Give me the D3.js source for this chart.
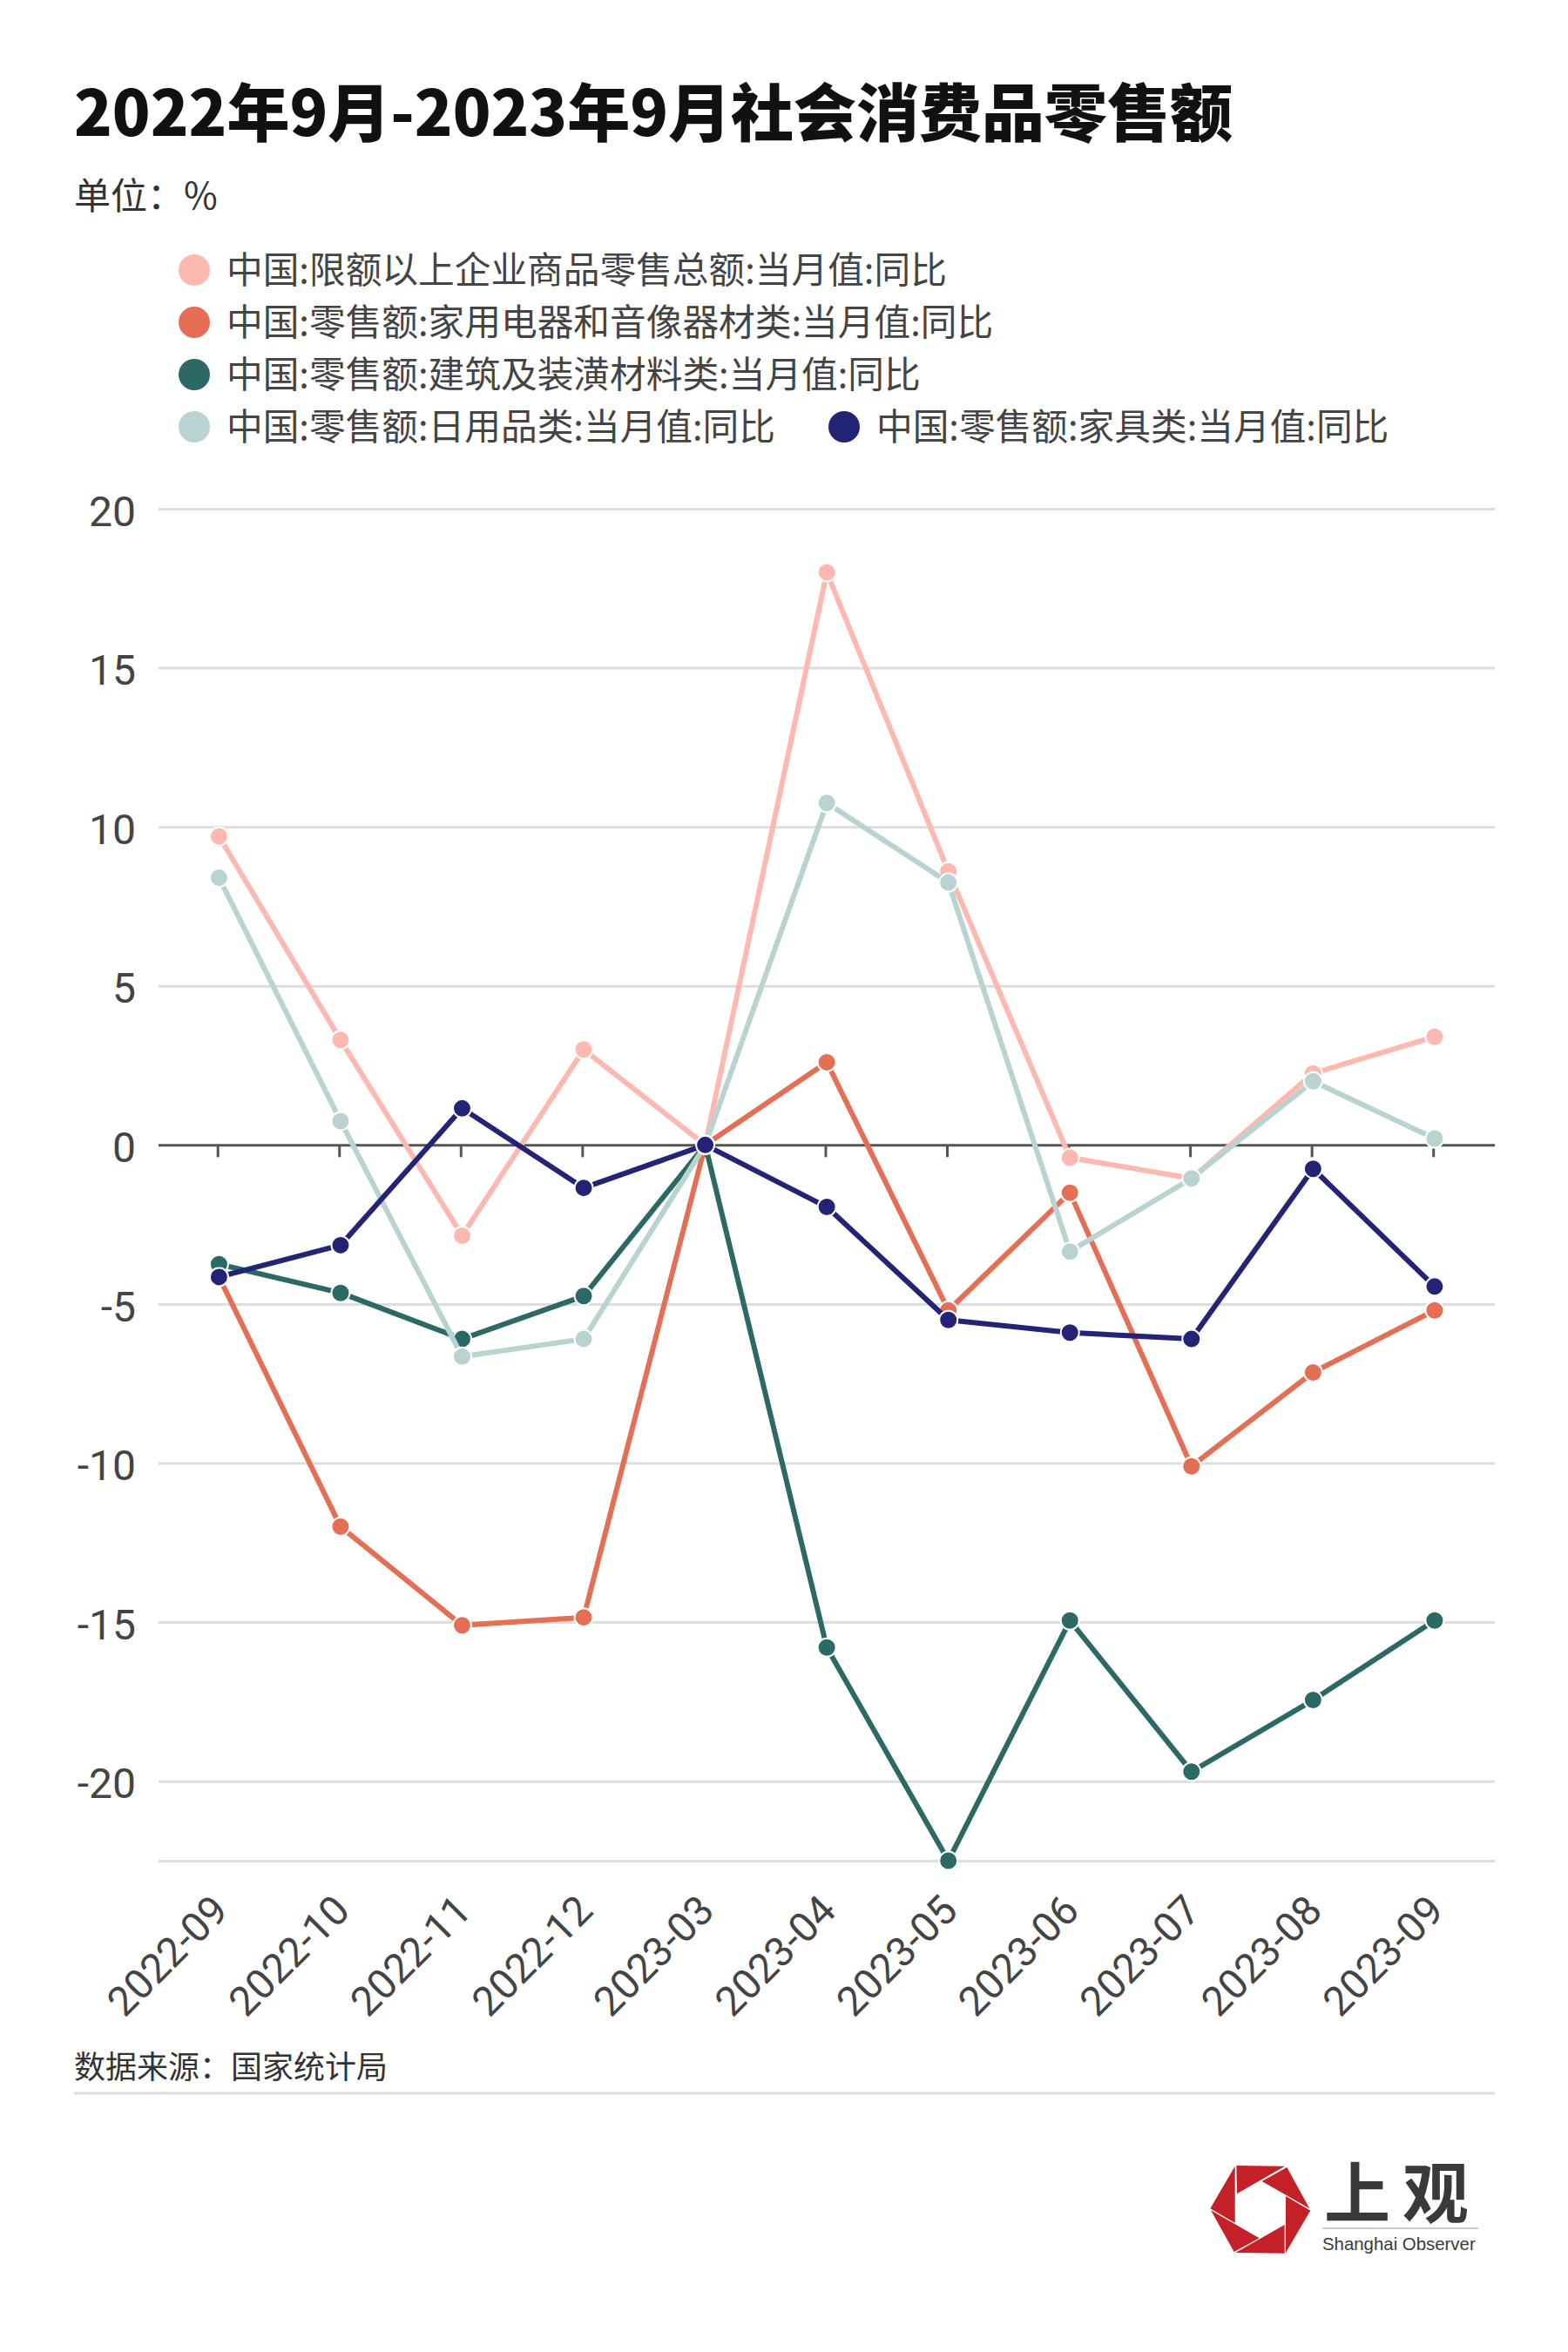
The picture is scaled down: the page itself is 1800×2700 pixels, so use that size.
<!DOCTYPE html>
<html lang="zh">
<head>
<meta charset="utf-8">
<script src="https://cdn.jsdelivr.net/npm/d3@7/dist/d3.min.js"></script>
<style>
html,body{margin:0;padding:0;background:#fff}
svg{display:block}
text{font-family:"Noto Sans CJK SC","Noto Sans",sans-serif}
</style>
</head>
<body>
<svg id="c" width="1800" height="2700"></svg>
<script>
const categories = ["2022-09","2022-10","2022-11","2022-12","2023-03","2023-04","2023-05","2023-06","2023-07","2023-08","2023-09"];
const retailTotal = [9.7,3.3,-2.85,3.0,0,18.0,8.6,-0.4,-1.05,2.25,3.4];
const appliances  = [-4.15,-12.0,-15.1,-14.85,0,2.6,-5.2,-1.5,-10.1,-7.15,-5.2];
const building    = [-3.75,-4.65,-6.1,-4.75,0,-15.8,-22.5,-14.95,-19.7,-17.45,-14.95];
const daily       = [8.4,0.75,-6.65,-6.1,0,10.75,8.25,-3.35,-1.05,2.0,0.2];
const furniture   = [-4.15,-3.15,1.15,-1.35,0,-1.95,-5.5,-5.9,-6.1,-0.75,-4.45];
const seriesNames = ["中国:限额以上企业商品零售总额:当月值:同比","中国:零售额:家用电器和音像器材类:当月值:同比","中国:零售额:建筑及装潢材料类:当月值:同比","中国:零售额:日用品类:当月值:同比","中国:零售额:家具类:当月值:同比"];
const seriesValues = [retailTotal,appliances,building,daily,furniture];
const seriesColors = ["#FDB9B0","#E56F55","#2B6866","#B9D2D2","#232475"];
const yTicks = [20,15,10,5,0,-5,-10,-15,-20,-22.5];
const yTickLabels = ["20","15","10","5","0","-5","-10","-15","-20",""];

const svg = d3.select("#c");
svg.append("rect").attr("width",1800).attr("height",2700).attr("fill","#fff");

const x = d3.scalePoint().domain(categories).range([251.4,1646.9]);
const y = d3.scaleLinear().domain([-22.5,20]).range([2136,584]);
const L = 182, R = 1716;
const digitFont = 'Roboto,"Noto Sans",sans-serif';

// title block
svg.append("text").attr("x",85).attr("y",156).attr("font-size",72).attr("font-weight",900).attr("fill","#111").text("2022年9月-2023年9月社会消费品零售额");
svg.append("text").attr("x",85).attr("y",240).attr("font-size",42).attr("fill","#333").text("单位：%");

// legend
const legendPos = [[223,310],[223,370],[223,430],[223,490],[969,490]];
seriesNames.forEach((n,i)=>{
  const g = svg.append("g").attr("transform",`translate(${legendPos[i][0]},${legendPos[i][1]})`);
  g.append("circle").attr("r",18).attr("fill",seriesColors[i]);
  g.append("text").attr("x",37).attr("y",14.5).attr("font-size",41.7).attr("fill","#444").text(n);
});

// y grid + labels
const yAxis = d3.axisLeft(y).tickValues(yTicks).tickSize(0).tickPadding(26)
  .tickFormat((d,i)=>yTickLabels[i]);
const gy = svg.append("g").attr("transform",`translate(${L},0)`).call(yAxis);
gy.select(".domain").remove();
gy.selectAll("text").attr("font-size",48).attr("fill","#444").style("font-family",digitFont).attr("dy","0.40em");
gy.selectAll(".tick").append("line").attr("x1",0).attr("x2",R-L).attr("stroke",d=>d===0?"#555":"#ddd").attr("stroke-width",3);
gy.selectAll(".tick").filter(d=>d===0).raise();

// x axis
const xAxis = d3.axisBottom(x).tickSize(14).tickPadding(0).tickSizeOuter(0);
const gx = svg.append("g").attr("transform",`translate(-1.7,${y(0)})`).call(xAxis);
gx.select(".domain").remove();
gx.selectAll("line").attr("stroke","#555").attr("stroke-width",3);
gx.selectAll("text").remove();
const labels = svg.append("g");
categories.forEach(c=>{
  labels.append("text").attr("transform",`translate(${x(c)-11},${y(-22.5)+36}) rotate(-45)`)
    .attr("text-anchor","end").attr("dy","0.72em").attr("font-size",47).attr("fill","#444").style("font-family",digitFont).text(c);
});

// series
const line = d3.line().x((d,i)=>x(categories[i])).y(d=>y(d));
seriesValues.forEach((vals,s)=>{
  const g = svg.append("g");
  g.append("path").attr("d",line(vals)).attr("fill","none").attr("stroke",seriesColors[s]).attr("stroke-width",6).attr("stroke-linejoin","round");
  g.selectAll("circle").data(vals).join("circle")
    .attr("cx",(d,i)=>x(categories[i])).attr("cy",d=>y(d)).attr("r",10.5)
    .attr("fill",seriesColors[s]).attr("stroke","#fff").attr("stroke-width",2);
});

// footer
svg.append("text").attr("x",85).attr("y",2386).attr("font-size",36).attr("fill","#333").text("数据来源：国家统计局");
svg.append("line").attr("x1",85).attr("x2",R).attr("y1",2403).attr("y2",2403).attr("stroke","#ddd").attr("stroke-width",3);

// logo
const blades = [
 [[208,78],[375,80],[210,175]],
 [[382,84],[460,226],[296,132]],
 [[378,183],[463,233],[378,378]],
 [[374,380],[205,378],[374,282]],
 [[200,375],[120,232],[287,328]],
 [[203,275],[118,226],[203,80]]
];
const logo = svg.append("g").attr("transform","translate(1350,2460) scale(0.3333)");
logo.selectAll("polygon").data(blades).join("polygon").attr("points",d=>d.join(" ")).attr("fill","#C32027");
svg.append("text").attr("x",1520).attr("y",2546).attr("font-size",76).attr("font-weight",700).attr("fill","#3a3a3a").attr("letter-spacing",14).text("上观");
svg.append("line").attr("x1",1518).attr("x2",1697).attr("y1",2558).attr("y2",2558).attr("stroke","#999").attr("stroke-width",1);
svg.append("text").attr("x",1518).attr("y",2583).attr("font-size",20.4).attr("fill","#3a3a3a").style("font-family",'"Liberation Sans",sans-serif').text("Shanghai Observer");
</script>
</body>
</html>
